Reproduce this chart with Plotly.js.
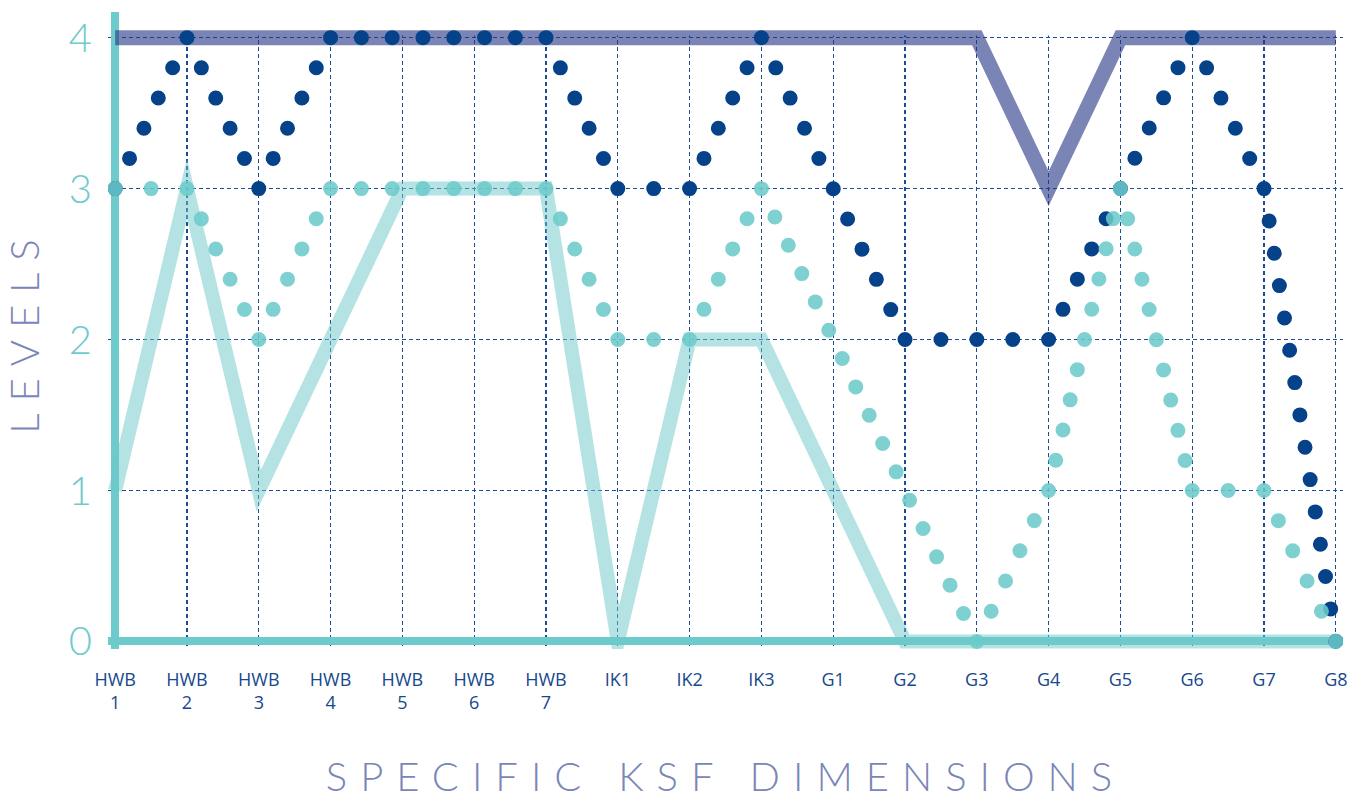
<!DOCTYPE html>
<html>
<head>
<meta charset="utf-8">
<script src="https://cdn.plot.ly/plotly-3.0.1.min.js"></script>
<style>
html,body{margin:0;padding:0;background:#ffffff;}
#chart{width:1357px;height:800px;}
.scatterlayer .js-line{stroke-miterlimit:10 !important;}
.scatterlayer .trace:nth-child(n+3) .js-line{stroke-linecap:round;}
.g-xtitle text{letter-spacing:13px;}
.g-ytitle text{letter-spacing:12px;}
</style>
</head>
<body>
<div id="chart"></div>
<script>
// Categories (x axis)
const categories = ["HWB 1","HWB 2","HWB 3","HWB 4","HWB 5","HWB 6","HWB 7",
  "IK1","IK2","IK3","G1","G2","G3","G4","G5","G6","G7","G8"];
const tickLabels = ["HWB<br>1","HWB<br>2","HWB<br>3","HWB<br>4","HWB<br>5","HWB<br>6","HWB<br>7",
  "IK1","IK2","IK3","G1","G2","G3","G4","G5","G6","G7","G8"];
const yTicks = [0, 1, 2, 3, 4];

// Series values (levels)
const thickSlate = [4,4,4,4,4,4,4,4,4,4,4,4,4,3,4,4,4,4];
const thickTeal  = [1,3,1,2,3,3,3,0,2,2,1,0,0,0,0,0,0,0];
const dotsNavy   = [3,4,3,4,4,4,4,3,3,4,3,2,2,2,3,4,3,0];
const dotsTeal   = [3,3,2,3,3,3,3,2,2,3,2,1,0,1,3,1,1,0];

const xIdx = categories.map((c, i) => i);

// layout geometry (used to space the round dots evenly along each straight run)
const W = 1357, H = 800;
const M = {l: 108, r: 14, t: 12, b: 151};
const X_RANGE = [-0.1, 17.1], Y_RANGE = [-0.05, 4.17];
const X_PX = (W - M.l - M.r) / (X_RANGE[1] - X_RANGE[0]);
const Y_PX = (H - M.t - M.b) / (Y_RANGE[1] - Y_RANGE[0]);
const DOT_STEP = 32;

function straightRuns(vals) {
  const out = []; let start = 0;
  for (let i = 1; i < vals.length; i++) {
    const isLast = i === vals.length - 1;
    if (isLast || (vals[i + 1] - vals[i]) !== (vals[i] - vals[i - 1])) {
      out.push([start, i]); start = i;
    }
  }
  return out;
}

function dottedTraces(vals, color) {
  const rs = straightRuns(vals);
  return rs.map(([a, b], k) => {
    const L = Math.hypot((b - a) * X_PX, (vals[b] - vals[a]) * Y_PX);
    const n = Math.max(1, Math.round(L / DOT_STEP));
    const last = k === rs.length - 1;
    const step = (L / n) * (last ? 0.9995 : 1.0008);
    return {
      x: xIdx.slice(a, b + 1), y: vals.slice(a, b + 1), text: categories.slice(a, b + 1),
      type: 'scatter', mode: 'lines',
      line: {color: color, width: 15, dash: '0px,' + step.toFixed(3) + 'px'},
      hoverinfo: 'text+y', showlegend: false
    };
  });
}

const traces = [
  {x: xIdx, y: thickSlate, text: categories, type: 'scatter', mode: 'lines',
   line: {color: 'rgba(34,52,132,0.6)', width: 15}, hoverinfo: 'text+y', showlegend: false},
  {x: xIdx, y: thickTeal, text: categories, type: 'scatter', mode: 'lines',
   line: {color: 'rgba(108,200,202,0.5)', width: 14}, hoverinfo: 'text+y', showlegend: false}
].concat(dottedTraces(dotsNavy, '#05428a'), dottedTraces(dotsTeal, 'rgba(108,202,202,0.87)'));

const gridCol = '#1b4c94';
const axisCol = '#6ecbcb';
const titleCol = '#7a86b8';

const layout = {
  width: W, height: H,
  margin: M,
  paper_bgcolor: '#ffffff', plot_bgcolor: '#ffffff',
  showlegend: false,
  xaxis: {
    range: X_RANGE, tickmode: 'array', tickvals: xIdx, ticktext: tickLabels,
    showgrid: true, gridcolor: gridCol, gridwidth: 1.3, griddash: '4px,3px',
    zeroline: true, zerolinecolor: axisCol, zerolinewidth: 8,
    showline: false, ticks: 'outside', ticklen: 14, tickcolor: 'rgba(0,0,0,0)',
    tickfont: {family: 'Open Sans, sans-serif', size: 18, color: '#17478c'},
    automargin: false, fixedrange: true,
    title: {text: 'SPECIFIC KSF DIMENSIONS', standoff: 53,
      font: {family: 'Lato, sans-serif', size: 40, color: titleCol, weight: 300}}
  },
  yaxis: {
    range: Y_RANGE, tickmode: 'array', tickvals: yTicks, ticktext: yTicks.map(String),
    showgrid: true, gridcolor: gridCol, gridwidth: 1.3, griddash: '4px,3px',
    zeroline: true, zerolinecolor: axisCol, zerolinewidth: 8,
    showline: false, ticks: 'outside', ticklen: 7, tickcolor: 'rgba(0,0,0,0)',
    tickfont: {family: 'Lato, sans-serif', size: 40, color: axisCol, weight: 300},
    automargin: false, fixedrange: true,
    title: {text: 'LEVELS', standoff: 29,
      font: {family: 'Lato, sans-serif', size: 40, color: titleCol, weight: 300}}
  },
  shapes: [
    {type: 'rect', layer: 'between', xref: 'x', yref: 'y', x0: 0.06, x1: 17.1, y0: 4.015, y1: 4.3,
     fillcolor: '#ffffff', line: {width: 0}}
  ]
};

Plotly.newPlot('chart', traces, layout, {displayModeBar: false, staticPlot: true});
</script>
</body>
</html>
